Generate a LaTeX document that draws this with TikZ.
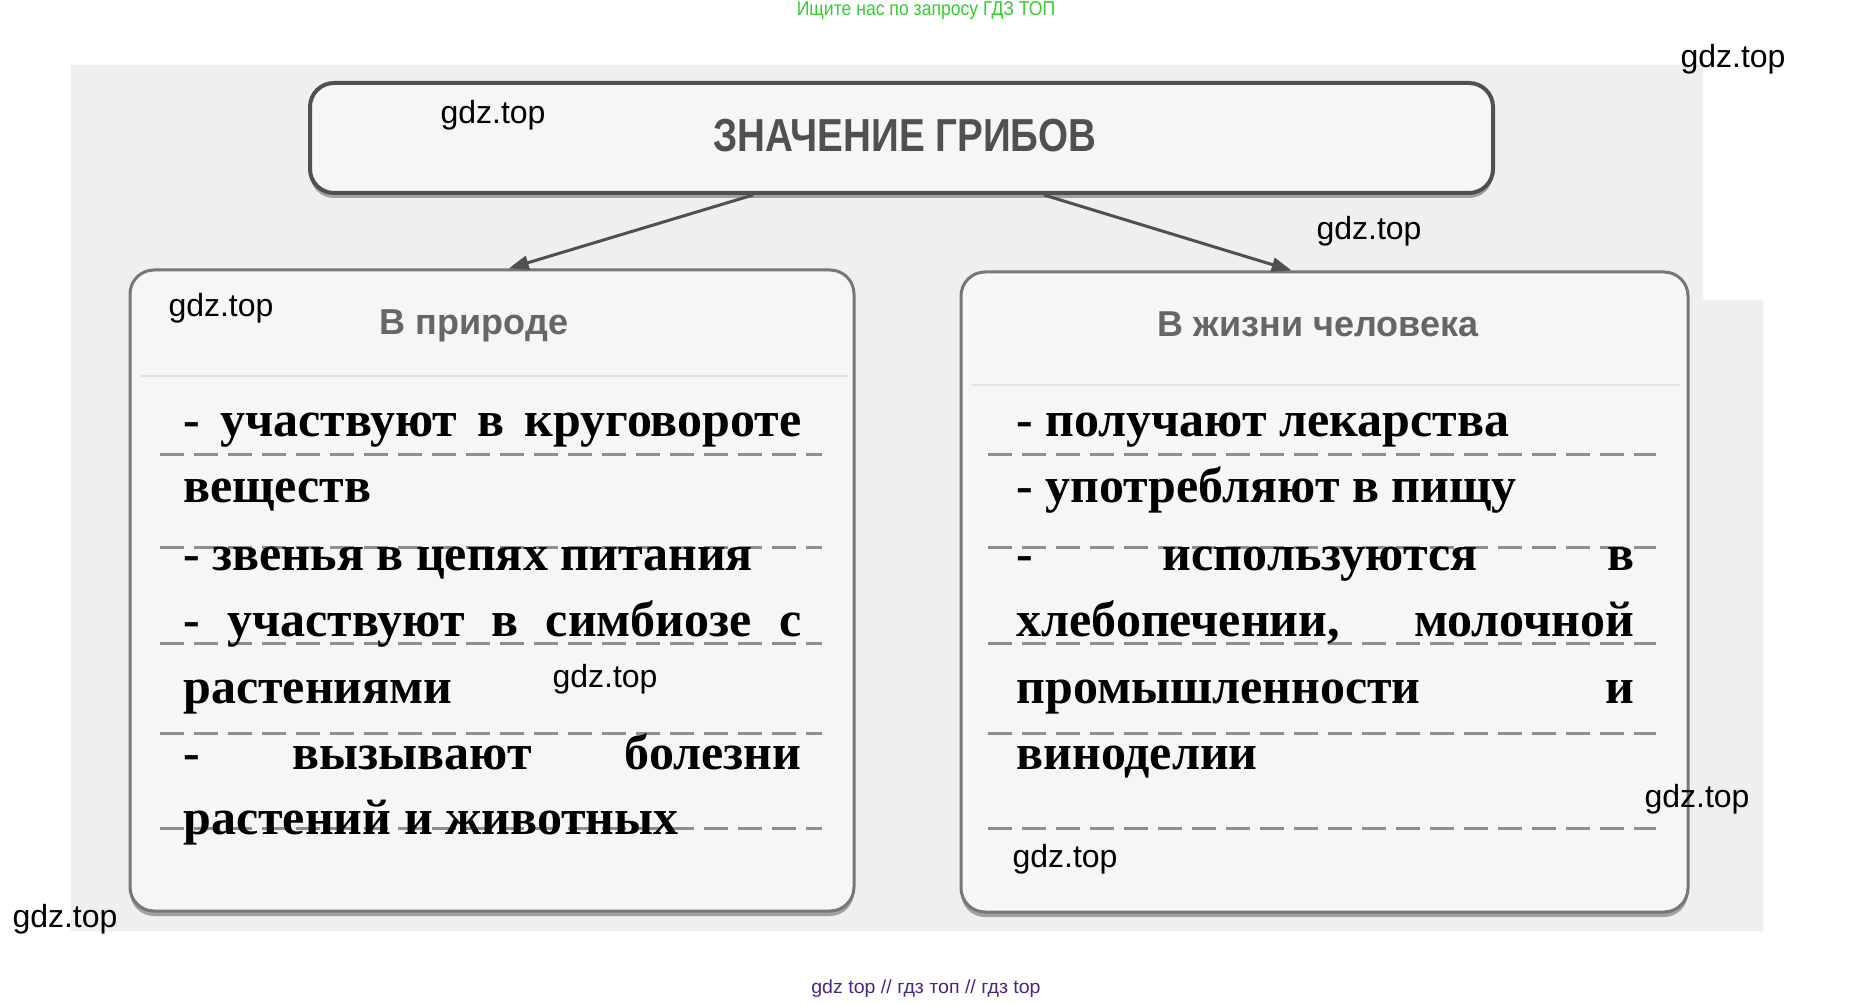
\documentclass[tikz,border=0pt]{standalone}
\usepackage{fontspec}
\setmainfont{Liberation Serif}
\newfontfamily\sansf{Liberation Sans}
\usetikzlibrary{arrows.meta,calc,shadows}
\definecolor{bg}{HTML}{EFEFEF}
\definecolor{boxfill}{HTML}{F6F6F6}
\definecolor{boxc}{HTML}{777777}
\definecolor{hdrc}{HTML}{505050}
\definecolor{dashc}{HTML}{8E8E8E}
\definecolor{titlec}{HTML}{666666}
\definecolor{greenc}{HTML}{33CC33}
\definecolor{purplec}{HTML}{4B2585}
\tikzset{
  panel/.style={draw=boxc, line width=1.5pt, rounded corners=12pt, fill=boxfill,
    drop shadow={shadow xshift=0pt, shadow yshift=-2.5pt, fill=gray!80, opacity=0.9}},
  hdrbox/.style={draw=hdrc, line width=2pt, rounded corners=12pt, fill=boxfill,
    drop shadow={shadow xshift=0pt, shadow yshift=-2.5pt, fill=gray!80, opacity=0.9}},
  body/.style={anchor=base west, inner sep=0pt, font=\fontsize{25pt}{30pt}\selectfont\bfseries},
  paneltitle/.style={anchor=base, inner sep=0pt, text=titlec, font=\sansf\bfseries\fontsize{18pt}{21pt}\selectfont},
  wm/.style={inner sep=0pt, font=\sansf\fontsize{16pt}{19pt}\selectfont},
  dashline/.style={draw=dashc, line width=1.5pt, dash pattern=on 12pt off 5pt},
  faint/.style={draw=gray!22, line width=1pt},
  arr/.style={draw=hdrc, line width=1.5pt, -{Triangle[length=10pt,width=7pt]}}
}
\newcommand{\jline}[1]{\hbox to 309pt{#1}}
\begin{document}
\begin{tikzpicture}[x=0.5pt,y=-0.5pt]
\useasboundingbox (0,0) rectangle (1855,1004);
\fill[white] (0,0) rectangle (1855,1004);
\fill[bg] (71,65) -- (1703,65) -- (1703,300) -- (1763,300) -- (1763,931) -- (71,931) -- cycle;

% top and bottom captions
\node[text=greenc, inner sep=0pt, font=\sansf\fontsize{10pt}{12pt}\selectfont] (topcap) at (926,11) {\scalebox{0.88}[1]{Ищите нас по запросу ГДЗ ТОП}};
\node[text=purplec, inner sep=0pt, font=\sansf\fontsize{9.5pt}{12pt}\selectfont] (botcap) at (926,989) {\scalebox{1.03}[1]{gdz top // гдз топ // гдз top}};

% boxes
\node[hdrbox, minimum width=591.5pt, minimum height=55pt] (hdr) at (901.5,138) {};
\node[panel, minimum width=362pt, minimum height=320.5pt] (lbox) at (492,590.5) {};
\node[panel, minimum width=363.5pt, minimum height=320pt] (rbox) at (1324.5,592) {};

\node[inner sep=0pt, text=hdrc, font=\sansf\bfseries\fontsize{19.3pt}{22pt}\selectfont] (hdrtext) at (905,136) {\scalebox{1}[1.2]{ЗНАЧЕНИЕ ГРИБОВ}};

% arrows
\draw[arr] ($(hdr.south west)!0.375!(hdr.south east)$) -- ($(lbox.north west)!0.523!(lbox.north east)$);
\draw[arr] ($(hdr.south west)!0.62!(hdr.south east)$) -- ($(rbox.north west)!0.455!(rbox.north east)$);

% faint ruled lines
\draw[faint] (140,376) -- (848,376);
\draw[faint] (972,385) -- (1680,385);

% panel titles
\node[paneltitle] (ltitle) at (474,335) {В природе};
\node[paneltitle] (rtitle) at (1318,337) {В жизни человека};

% dashed lines
\foreach \yy in {455,548,643,733,828}{
  \draw[dashline] (160,\yy) -- (822,\yy);
  \draw[dashline] (988,\yy) -- (1656,\yy);
}

% left text
\node[body] (l1) at (183,437) {\jline{-\hfill участвуют\hfill в\hfill круговороте}};
\node[body] (l2) at (183,503) {веществ};
\node[body] (l3) at (183,570) {- звенья в цепях питания};
\node[body] (l4) at (183,636) {\jline{-\hfill участвуют\hfill в\hfill симбиозе\hfill с}};
\node[body] (l5) at (183,703) {растениями};
\node[body] (l6) at (183,769) {\jline{-\hfill вызывают\hfill болезни}};
\node[body] (l7) at (183,834) {растений и животных};

% right text
\node[body] (r1) at (1016,437) {- получают лекарства};
\node[body] (r2) at (1016,503) {- употребляют в пищу};
\node[body] (r3) at (1016,570) {\jline{-\hfill используются\hfill в}};
\node[body] (r4) at (1016,636) {\jline{хлебопечении,\hfill молочной}};
\node[body] (r5) at (1016,703) {\jline{промышленности\hfill и}};
\node[body] (r6) at (1016,769) {виноделии};

% watermarks
\node[wm] (w1) at (1733,59) {gdz.top};
\node[wm] (w2) at (493,115) {gdz.top};
\node[wm] (w3) at (1369,231) {gdz.top};
\node[wm] (w4) at (221,308) {gdz.top};
\node[wm] (w5) at (605,679) {gdz.top};
\node[wm] (w6) at (1697,799) {gdz.top};
\node[wm] (w7) at (1065,859) {gdz.top};
\node[wm] (w8) at (65,919) {gdz.top};
\end{tikzpicture}
\end{document}
